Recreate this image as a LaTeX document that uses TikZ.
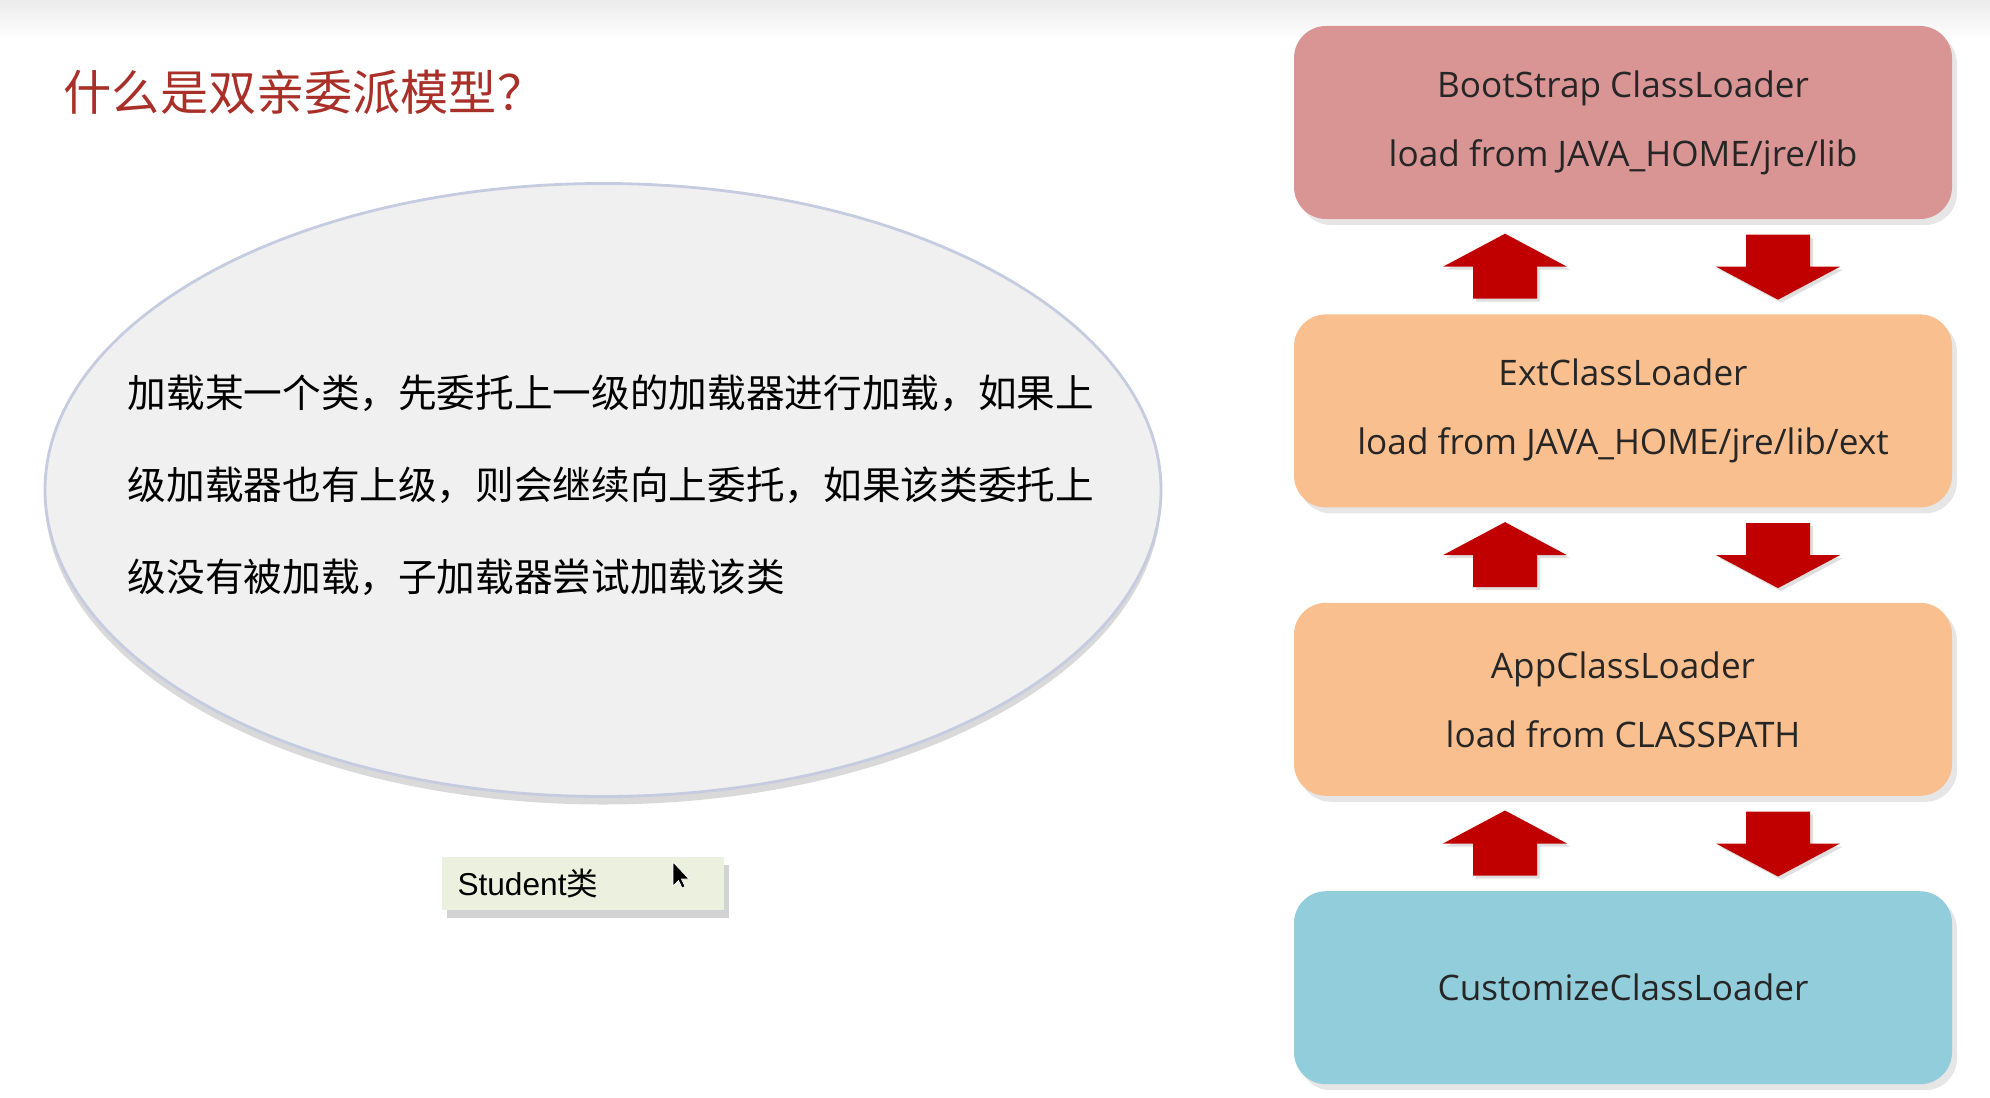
\documentclass[tikz,border=0pt]{standalone}
\usepackage{fontspec}
\setmainfont{Open Sans}
\newfontfamily\cjk{Noto Sans CJK SC}
\newfontfamily\arialf{Liberation Sans}
\usetikzlibrary{positioning,shapes,shadows,calc}
\definecolor{bootred}{RGB}{217,149,148}
\definecolor{extorange}{RGB}{250,191,143}
\definecolor{custblue}{RGB}{146,205,220}
\definecolor{arrowred}{RGB}{192,0,0}
\definecolor{titlered}{RGB}{168,48,40}
\definecolor{bubblefill}{RGB}{240,240,240}
\definecolor{bubbleline}{RGB}{198,204,224}
\definecolor{stufill}{RGB}{235,241,222}
\definecolor{boxtext}{RGB}{38,38,38}

\begin{document}
\begin{tikzpicture}[
  loader/.style={rectangle,rounded corners=3.2mm,minimum width=6.58cm,minimum height=1.93cm,
    align=center,text=boxtext,font=\fontsize{10pt}{0.69cm}\selectfont,
    drop shadow={shadow xshift=.5mm,shadow yshift=-.6mm,opacity=.2}},
  blkup/.pic={\fill[arrowred,drop shadow={shadow xshift=.3mm,shadow yshift=-.3mm,opacity=.25}]
    (-.32,-.32) -- (-.32,0) -- (-.62,0) -- (0,.33) -- (.62,0) -- (.32,0) -- (.32,-.32) -- cycle;},
  node distance=0.94cm]
\useasboundingbox (0,0) rectangle (19.9,-10.97);
\shade[top color=gray!15,bottom color=white] (0,0) rectangle (19.9,-.4);

\node[anchor=west,inner sep=0,text=titlered,font=\cjk\fontsize{13.7pt}{15pt}\selectfont]
  (title) at (.63,-.92) {什么是双亲委派模型？};

\node[ellipse,draw=bubbleline,thick,fill=bubblefill,minimum width=11.16cm,minimum height=6.13cm,
    drop shadow={shadow xshift=0mm,shadow yshift=-.8mm,opacity=.3}] (bubble) at (6.03,-4.90) {};
\node[anchor=west,inner sep=0,align=left,font=\cjk\fontsize{11pt}{0.92cm}\selectfont]
  (rule) at (1.27,-4.85) {加载某一个类，先委托上一级的加载器进行加载，如果上\\
  级加载器也有上级，则会继续向上委托，如果该类委托上\\级没有被加载，子加载器尝试加载该类};

\node[fill=stufill,text width=2.5cm,align=left,inner xsep=.16cm,minimum height=.53cm,
    font=\fontsize{9pt}{11pt}\selectfont,
    drop shadow={shadow xshift=.5mm,shadow yshift=-.8mm,opacity=.35}]
  (stu) at (5.825,-8.835) {\arialf Student\cjk 类};
% mouse pointer
\filldraw[black,draw=white,very thin] (6.73,-8.62) -- (6.73,-8.86) -- (6.785,-8.805) -- (6.82,-8.88)
  -- (6.85,-8.865) -- (6.815,-8.79) -- (6.89,-8.79) -- cycle;

\node[loader,fill=bootred] (boot) at (16.23,-1.225) {BootStrap ClassLoader\\load from JAVA\_HOME/jre/lib};
\node[loader,fill=extorange,below=of boot] (ext) {ExtClassLoader\\load from JAVA\_HOME/jre/lib/ext};
\node[loader,fill=extorange,below=of ext] (app) {AppClassLoader\\load from CLASSPATH};
\node[loader,fill=custblue,below=of app] (cust) {CustomizeClassLoader};

\foreach \a/\b in {boot/ext,ext/app,app/cust}
  \path ($(\a.south)!.5!(\b.north)$) +(-1.18,0) pic {blkup} +(1.55,0) pic[rotate=180] {blkup};
\end{tikzpicture}
\end{document}
